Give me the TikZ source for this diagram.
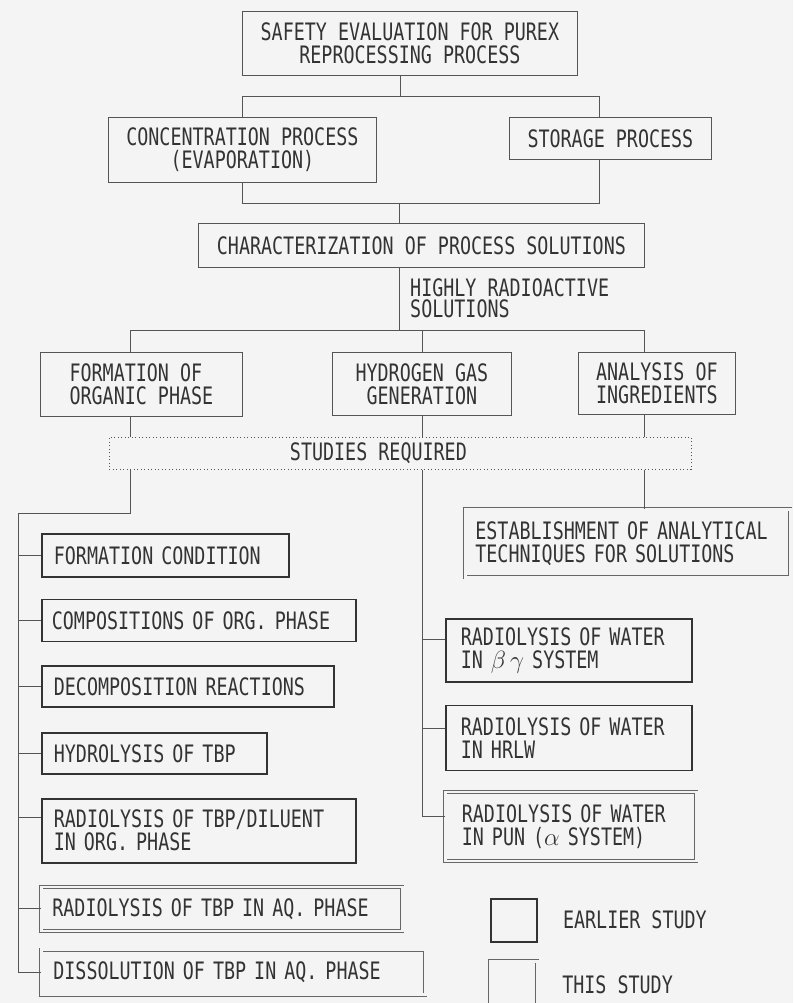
\documentclass[tikz,border=0pt]{standalone}
\usepackage{fontspec}
\usepackage{tikz}
\usetikzlibrary{
  positioning
}
\newfontfamily\boxfam[FakeStretch=0.765]{DejaVu Sans Mono}
\definecolor{pagebg}{HTML}{F5F4F4}
\definecolor{inkgray}{HTML}{333333}
\definecolor{linegray}{HTML}{555555}
\definecolor{dblgray}{HTML}{666666}
\newcommand{\boxfont}{\boxfam\fontsize{24}{23}\selectfont}

\begin{document}
\begin{tikzpicture}[
  x=1pt, y=-1pt,
  node distance=22pt,
  plainbox/.style={draw=linegray, line width=0.8pt, fill=pagebg, font=\boxfont,
    text=inkgray, align=center, inner sep=0pt},
  earlier/.style={draw=inkgray, line width=1.7pt, fill=pagebg, font=\boxfont,
    text=inkgray, align=left, inner sep=0pt},
  thisstudy/.style={draw=dblgray, line width=0.75pt, double=pagebg,
    double distance=2.4pt, fill=pagebg, font=\boxfont, text=inkgray,
    align=left, inner sep=0pt},
  studies/.style={draw=linegray, line width=0.8pt, dash pattern=on 1pt off 2.5pt},
  wire/.style={draw=linegray, line width=0.8pt}
]

  \useasboundingbox (0,0) rectangle (793,1003);
  \fill[pagebg] (0,0) rectangle (793,1003);

  \node[plainbox, minimum width=335pt, minimum height=64pt, anchor=north west] (purex) at (242,11)
    {SAFETY EVALUATION FOR PUREX\\REPROCESSING PROCESS};
  \node[plainbox, minimum width=268pt, minimum height=65pt, anchor=north west] (conc) at (108,117)
    {CONCENTRATION PROCESS\\(EVAPORATION)};
  \node[plainbox, minimum width=202pt, minimum height=42pt, anchor=north west] (store) at (509,117)
    {STORAGE PROCESS};
  \node[plainbox, minimum width=446pt, minimum height=44pt, anchor=north west] (charac) at (198,223)
    {CHARACTERIZATION OF PROCESS SOLUTIONS};
  \node[font=\boxfam\fontsize{24}{21}\selectfont, text=inkgray, align=left, inner sep=0pt,
    anchor=west] (hras) at (410,298) {HIGHLY RADIOACTIVE\\SOLUTIONS};

  \node[plainbox, align=left, minimum width=202pt, minimum height=64pt, anchor=north west] (orgph) at (40,352)
    {FORMATION OF\\ORGANIC PHASE};
  \node[plainbox, minimum width=179pt, minimum height=63pt, anchor=north west] (hgas) at (332,352)
    {HYDROGEN GAS\\GENERATION};
  \node[plainbox, align=left, minimum width=157pt, minimum height=62pt, anchor=north west] (ingred) at (578,352)
    {ANALYSIS OF\\INGREDIENTS};

  \node[studies, minimum width=582pt, minimum height=32pt, anchor=north west,
    label={[xshift=-22pt, font=\boxfont, text=inkgray]center:STUDIES REQUIRED}] (req) at (109,437) {};

  % organic phase studies
  \node[earlier, minimum width=247pt, minimum height=43pt, text width=223pt, anchor=north west] (fcond) at (41,533)
    {FORMATION CONDITION};
  \node[earlier, minimum width=314pt, minimum height=42pt, text width=294pt,
    below=21pt of fcond.south west, anchor=north west] (compo) {COMPOSITIONS OF ORG. PHASE};
  \node[earlier, minimum width=292pt, minimum height=41pt, text width=268pt,
    below=23pt of compo.south west, anchor=north west] (decomp) {DECOMPOSITION REACTIONS};
  \node[earlier, minimum width=225pt, minimum height=41pt, text width=201pt,
    below=24pt of decomp.south west, anchor=north west] (hydro) {HYDROLYSIS OF TBP};
  \node[earlier, minimum width=314pt, minimum height=64pt, text width=290pt,
    below=23pt of hydro.south west, anchor=north west] (dilu) {RADIOLYSIS OF TBP/DILUENT\\IN ORG. PHASE};
  \node[thisstudy, minimum width=361pt, minimum height=44pt, text width=339pt,
    below=23pt of dilu.south west, anchor=north west] (aqrad) {RADIOLYSIS OF TBP IN AQ. PHASE};
  \node[thisstudy, minimum width=384pt, minimum height=45pt, text width=360pt,
    below=18pt of aqrad.south west, anchor=north west] (dissol) {DISSOLUTION OF TBP IN AQ. PHASE};

  % analysis and hydrogen studies
  \node[thisstudy, minimum width=325pt, minimum height=68pt, text width=305pt, anchor=north west] (estab) at (465,509)
    {ESTABLISHMENT OF ANALYTICAL\\TECHNIQUES FOR SOLUTIONS};
  \node[earlier, minimum width=246pt, minimum height=63pt, text width=216pt, anchor=north west] (bgsys) at (445,618)
    {RADIOLYSIS OF WATER\\IN $\beta\,\gamma$ SYSTEM};
  \node[earlier, minimum width=246pt, minimum height=65pt, text width=216pt,
    below=22pt of bgsys.south west, anchor=north west] (hrlw) {RADIOLYSIS OF WATER\\IN HRLW};
  \node[thisstudy, minimum width=251pt, minimum height=69pt, text width=218pt,
    below=20pt of hrlw.south west, anchor=north west] (pun) {RADIOLYSIS OF WATER\\IN PUN ($\alpha$ SYSTEM)};

  % legend
  \node[earlier, line width=1.5pt, minimum width=46pt, minimum height=43pt, anchor=north west] (keyold) at (490,898) {};
  \node[font=\boxfont, text=inkgray, right=22pt of keyold] (keyoldtxt) {EARLIER STUDY};
  \node[thisstudy, minimum width=47pt, minimum height=46pt, anchor=north west] (keynew) at (490,961) {};
  \node[font=\boxfont, text=inkgray, right=21pt of keynew] (keynewtxt) {THIS STUDY};

  % junctions
  \coordinate (j1) at (400,96);
  \coordinate (j1r) at (599,96);
  \coordinate (j2) at (399,203);
  \coordinate (j2r) at (599,203);
  \coordinate (j3) at (399,330);
  \coordinate (j3l) at (130,330);
  \coordinate (j3r) at (644,330);
  \coordinate (j4) at (130,513);
  \coordinate (trunk) at (18,513);
  \coordinate (dilutick) at ([yshift=13pt]dilu.west);
  \coordinate (bgtick) at ([yshift=11pt]bgsys.west);
  \coordinate (hrlwtick) at ([yshift=10pt]hrlw.west);
  \coordinate (puntick) at ([yshift=10pt]pun.west);

  \draw[wire] (purex.south -| j1) -- (j1);
  \draw[wire] (conc.north) |- (j1r) -- (store.north -| j1r);
  \draw[wire] (conc.south) |- (j2r) -- (store.south -| j2r);
  \draw[wire] (j2) -- (charac.north -| j2);
  \draw[wire] (charac.south -| j3) -- (j3);
  \draw[wire] (orgph.north -| j3l) -- (j3l) -- (j3r) -- (ingred.north -| j3r);
  \draw[wire] (hgas.north) -- (hgas.north |- j3);

  \draw[wire] (orgph.south -| j3l) -- (req.north -| j3l);
  \draw[wire] (hgas.south) -- (req.north -| hgas);
  \draw[wire] (ingred.south -| j3r) -- (req.north -| j3r);

  \draw[wire] (req.south -| j4) -- (j4) -- (trunk) |- (dissol.west);
  \foreach \b in {fcond,compo,decomp,hydro,aqrad}
    \draw[wire] (\b.west) -- (\b.west -| trunk);
  \draw[wire] (dilutick) -- (dilutick -| trunk);

  \draw[wire] (req.south -| j3r) -- (estab.north -| j3r);
  \draw[wire] (req.south -| hgas) |- (puntick);
  \draw[wire] (bgtick) -- (bgtick -| hgas);
  \draw[wire] (hrlwtick) -- (hrlwtick -| hgas);

\end{tikzpicture}
\end{document}
